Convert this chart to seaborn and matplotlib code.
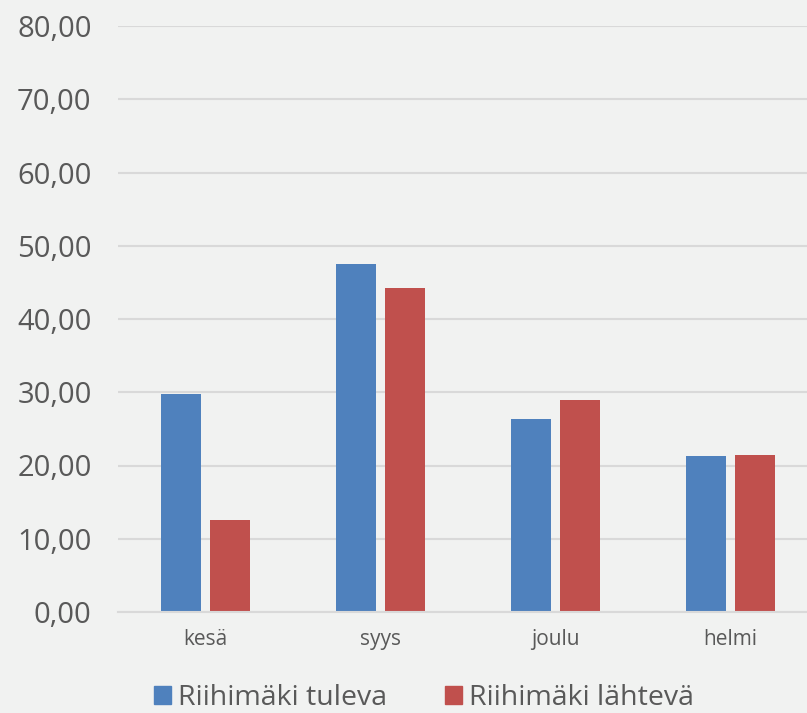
import seaborn as sns
import pandas as pd
import matplotlib.pyplot as plt
from matplotlib.ticker import FuncFormatter
from matplotlib.patches import Patch

# data
kaudet = ['kesä', 'syys', 'joulu', 'helmi']
tuleva = [29.8, 47.5, 26.3, 21.3]
lahteva = [12.6, 44.2, 29.0, 21.5]
sarjat = ['Riihimäki tuleva', 'Riihimäki lähtevä']
varit = ['#4F81BD', '#C0504D']
bg = '#F1F2F1'

df = pd.DataFrame({
    'kausi': kaudet * 2,
    'arvo': tuleva + lahteva,
    'sarja': [sarjat[0]] * 4 + [sarjat[1]] * 4,
})

sns.set_style('white')
plt.rcParams['font.family'] = ['Open Sans', 'DejaVu Sans']

fig = plt.figure(figsize=(8.07, 7.13), dpi=100, facecolor=bg)
ax = fig.add_axes([118 / 807, 101 / 713, 700 / 807, 586 / 713])
ax.set_facecolor(bg)

sns.barplot(data=df, x='kausi', y='arvo', hue='sarja', palette=varit,
            width=0.566, gap=0.2, saturation=1, linewidth=0, ax=ax, legend=False)

ax.set_ylim(0, 80)
ax.set_yticks(range(0, 81, 10))
ax.yaxis.set_major_formatter(FuncFormatter(lambda v, p: f'{v:.2f}'.replace('.', ',')))
ax.grid(axis='y', color='#D9D9D9', linewidth=1.5)
ax.set_axisbelow(True)
for s in ['top', 'right', 'left']:
    ax.spines[s].set_visible(False)
ax.spines['bottom'].set_color('#D9D9D9')
ax.spines['bottom'].set_linewidth(1.5)
ax.tick_params(axis='y', labelsize=21, colors='#595959', length=0, pad=19)
ax.tick_params(axis='x', labelsize=15, colors='#595959', length=0, pad=12)
ax.set_xlabel('')
ax.set_ylabel('')

handles = [Patch(color=c, label=l) for c, l in zip(varit, sarjat)]
fig.legend(handles=handles, loc='center', bbox_to_anchor=(424 / 807, 15 / 713),
           ncol=2, frameon=False, fontsize=20.5, labelcolor='#595959',
           handlelength=0.6, handleheight=0.6, handletextpad=0.25, columnspacing=2.0)

plt.savefig('out.png', dpi=100, facecolor=bg)
